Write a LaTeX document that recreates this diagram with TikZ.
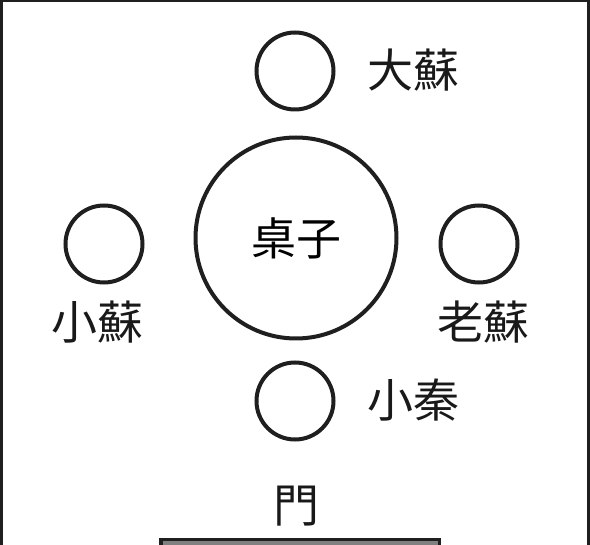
\documentclass[tikz,border=0pt]{standalone}
\usepackage{fontspec}
\newfontfamily\cjk{Noto Sans CJK TC}
\begin{document}
\begin{tikzpicture}[x=1pt,y=-1pt,
  seat/.style={circle,draw=black!88,line width=4pt,minimum size=77pt,inner sep=0pt},
  tablebox/.style={circle,draw=black!88,line width=4pt,minimum size=201pt,inner sep=0pt,font=\cjk\fontsize{45}{45}\selectfont},
  lbl/.style={font=\cjk\fontsize{46}{46}\selectfont,inner sep=0pt,text=black!90}]
\useasboundingbox (0,0) rectangle (590,545);
\draw[line width=3pt,draw=black!88] (1,560) -- (1,1) -- (588.5,1) -- (588.5,560);
\node[tablebox] (table) at (296,238) {桌子};
\node[seat] (top) at (295,71) {};
\node[seat] (left) at (104,244) {};
\node[seat] (right) at (479,244) {};
\node[seat] (bottom) at (295,401) {};
\node[lbl] (ltop) at (413,70) {大蘇};
\node[lbl] (lleft) at (98,322) {小蘇};
\node[lbl] (lright) at (483,322) {老蘇};
\node[lbl] (lbottom) at (413,400) {小秦};
\node[lbl] (door) at (296,506) {門};
\draw[line width=3.5pt,draw=black!88,fill=black!50] (160.75,539.75) rectangle (439.25,560);
\end{tikzpicture}
\end{document}
